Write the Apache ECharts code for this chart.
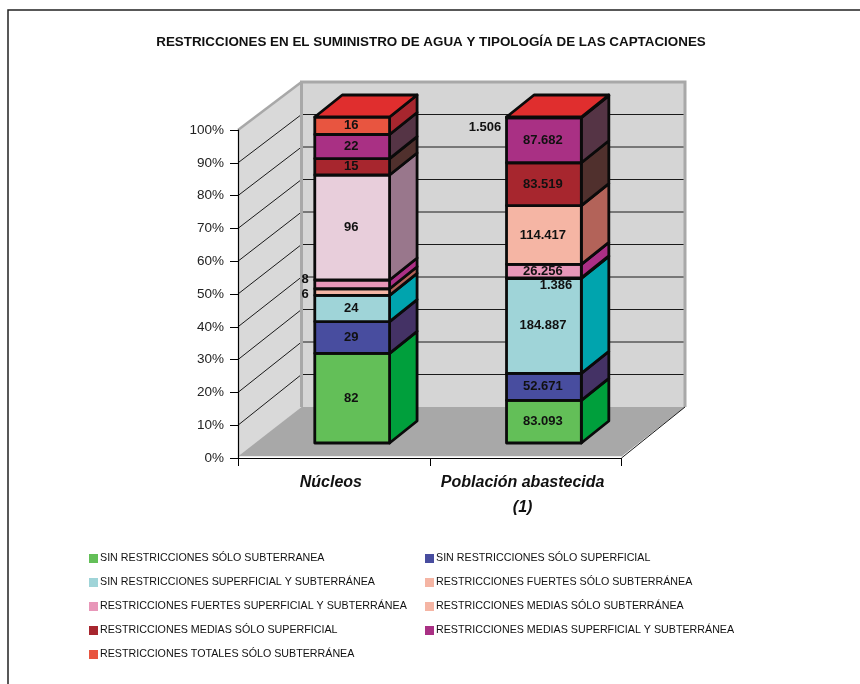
<!DOCTYPE html>
<html><head><meta charset="utf-8">
<style>html,body{margin:0;padding:0;background:#fff}#c{width:860px;height:684px}</style>
<script src="https://cdn.jsdelivr.net/npm/echarts@6/dist/echarts.min.js"></script>
</head><body><div id="c"></div>
<script>
// ---- data ----
var categories = ['Núcleos', 'Población abastecida\n(1)'];
var yTicks = [0, 10, 20, 30, 40, 50, 60, 70, 80, 90, 100];
var sinSoloSubterranea = [82, 83093];
var sinSoloSuperficial = [29, 52671];
var sinSuperficialSubterranea = [24, 184887];
var fuertesSoloSubterranea = [6, 1386];
var fuertesSuperficialSubterranea = [8, 26256];
var mediasSoloSubterranea = [96, 114417];
var mediasSoloSuperficial = [15, 83519];
var mediasSuperficialSubterranea = [22, 87682];
var totalesSoloSubterranea = [16, 1506];
var seriesNames = [
  'SIN RESTRICCIONES SÓLO SUBTERRANEA', 'SIN RESTRICCIONES SÓLO SUPERFICIAL',
  'SIN RESTRICCIONES SUPERFICIAL Y SUBTERRÁNEA', 'RESTRICCIONES FUERTES SÓLO SUBTERRÁNEA',
  'RESTRICCIONES FUERTES SUPERFICIAL Y SUBTERRÁNEA', 'RESTRICCIONES MEDIAS SÓLO SUBTERRÁNEA',
  'RESTRICCIONES MEDIAS SÓLO SUPERFICIAL', 'RESTRICCIONES MEDIAS SUPERFICIAL Y SUBTERRÁNEA',
  'RESTRICCIONES TOTALES SÓLO SUBTERRÁNEA'
];
var seriesValues = [sinSoloSubterranea, sinSoloSuperficial, sinSuperficialSubterranea,
  fuertesSoloSubterranea, fuertesSuperficialSubterranea, mediasSoloSubterranea,
  mediasSoloSuperficial, mediasSuperficialSubterranea, totalesSoloSubterranea];

// ---- styles ----
var frontColors = ['#63bf58', '#484d9f', '#9fd4d8', '#f5b5a4', '#e897b9', '#f5b5a4', '#a7262e', '#a93084', '#e85540'];
var sideColors  = ['#009f3c', '#443265', '#00a4ae', '#b36359', '#ab2f86', '#b36359', '#50302d', '#553445', '#a7262e'];
var overrides = { '5:0': { front: '#e8cedb', side: '#99778c' } };
var labelShift = { '3:0': [-46, 2], '4:0': [-46, -5], '3:1': [13, 7], '8:1': [-58, 10] };
var capColor = '#e02e2e';
var FONT = '"Liberation Sans", Arial, sans-serif';
var wall = { dx: 63.5, dyBottom: -51, dyTop: -48 };
var bar = { shift: 18.3, width: 74.8, sideDx: 27.5, sideDy: -22, rise: 15, scale: 326 / 328 };

var totals = categories.map(function (_, c) {
  return seriesValues.reduce(function (s, a) { return s + a[c]; }, 0);
});
function fmt(v) { return String(v).replace(/\B(?=(\d{3})+$)/g, '.'); }

function renderWall(params, api) {
  var v = api.value(0);
  var p = api.coord([0, v]);
  var p0 = api.coord([0, 0]);
  var p100 = api.coord([0, 100]);
  var xRight = api.coord([1, 0])[0] + api.size([1, 0])[0] / 2;
  var xLeft = api.coord([0, 0])[0] - api.size([1, 0])[0] / 2;
  function backY(val, y) { return y + wall.dyBottom + (wall.dyTop - wall.dyBottom) * val / 100; }
  var by0 = backY(0, p0[1]), by100 = backY(100, p100[1]);
  var bx = xLeft + wall.dx, brx = xRight + wall.dx;
  var by = backY(v, p[1]);
  var kids = [];
  if (params.dataIndex === 0) {
    kids.push({ type: 'polygon', shape: { points: [[xLeft, p0[1]], [xLeft, p100[1]], [bx, by100], [bx, by0]] }, style: { fill: '#d9d9d9', stroke: null } });
    kids.push({ type: 'rect', shape: { x: bx, y: by100, width: brx - bx, height: by0 - by100 }, style: { fill: '#d5d5d5', stroke: null } });
    kids.push({ type: 'polygon', shape: { points: [[xLeft, p0[1] - 1.5], [xRight, p0[1] - 1.5], [brx, by0], [bx, by0]] }, style: { fill: '#a8a8a8', stroke: null } });
    kids.push({ type: 'line', shape: { x1: xLeft, y1: p0[1] - 1, x2: xRight, y2: p0[1] - 1 }, style: { stroke: '#ffffff', lineWidth: 1 } });
  }
  if (v > 0 && v < 100) {
    kids.push({ type: 'polyline', shape: { points: [[xLeft, p[1]], [bx, by], [brx - 1, by]] }, style: { fill: null, stroke: '#1a1a1a', lineWidth: 1 } });
  }
  if (v === 100) {
    kids.push({ type: 'polyline', shape: { points: [[bx, by0], [bx, by100], [brx, by100], [brx, by0]] }, style: { fill: null, stroke: '#a8a8a8', lineWidth: 3 } });
    kids.push({ type: 'line', shape: { x1: xLeft, y1: p100[1], x2: bx, y2: by100 }, style: { stroke: '#a8a8a8', lineWidth: 2.5 } });
    kids.push({ type: 'line', shape: { x1: xRight, y1: p0[1], x2: brx, y2: by0 }, style: { stroke: '#1a1a1a', lineWidth: 1 } });
  }
  return { type: 'group', children: kids };
}

function renderLayer(params, api) {
  var s = params.seriesIndex - 1;
  var c = api.value(0);
  var y0Axis = api.coord([c, 0])[1];
  function by(v) { return y0Axis + (api.coord([c, v])[1] - y0Axis) * bar.scale - bar.rise; }
  var cx = api.coord([c, 0])[0] + bar.shift;
  var l = cx - bar.width / 2, r = cx + bar.width / 2;
  var yb = by(api.value(1)), yt = by(api.value(2));
  var o = overrides[s + ':' + c] || {};
  var sx = bar.sideDx, sy = bar.sideDy;
  var line = { stroke: '#0a0a0a', lineWidth: 2.8, lineJoin: 'round' };
  var kids = [
    { type: 'polygon', shape: { points: [[r, yb], [r + sx, yb + sy], [r + sx, yt + sy], [r, yt]] },
      style: Object.assign({ fill: o.side || sideColors[s] }, line) },
    { type: 'rect', shape: { x: l, y: yt, width: r - l, height: yb - yt },
      style: Object.assign({ fill: o.front || frontColors[s] }, line) }
  ];
  if (s === seriesValues.length - 1) {
    kids.push({ type: 'polygon', shape: { points: [[l, yt], [r, yt], [r + sx, yt + sy], [l + sx, yt + sy]] },
      style: Object.assign({ fill: capColor }, line) });
  }
  var sh = labelShift[s + ':' + c] || [0, 0];
  kids.push({ type: 'text', z2: 100, style: {
    x: cx - 1 + sh[0], y: (yb + yt) / 2 + sh[1], text: fmt(api.value(3)), align: 'center', verticalAlign: 'middle',
    font: 'bold 13px ' + FONT, fill: '#111'
  } });
  return { type: 'group', children: kids };
}

var layerSeries = seriesValues.map(function (vals, s) {
  return {
    name: seriesNames[s], type: 'custom', renderItem: renderLayer, z: 5 + s,
    coordinateSystem: 'cartesian2d', clip: false,
    itemStyle: { color: frontColors[s] },
    encode: { x: 0, y: 2 },
    data: vals.map(function (v, c) {
      var before = 0;
      for (var i = 0; i < s; i++) before += seriesValues[i][c];
      return [c, before / totals[c] * 100, (before + v) / totals[c] * 100, v];
    })
  };
});

function legendCol(left, items) {
  return {
    left: left, top: 552, orient: 'vertical', itemWidth: 9, itemHeight: 9, itemGap: 11, icon: 'rect',
    selectedMode: false, padding: 0, data: items,
    textStyle: { fontFamily: FONT, fontSize: 10.7, color: '#111', padding: [0, 0, 0, -3], lineHeight: 13 }
  };
}

var chart = echarts.init(document.getElementById('c'));
chart.setOption({
  animation: false,
  backgroundColor: '#fff',
  title: { text: 'RESTRICCIONES EN EL SUMINISTRO DE AGUA Y TIPOLOGÍA DE LAS CAPTACIONES',
    left: 431, textAlign: 'center', top: 36, padding: 0,
    textStyle: { fontFamily: FONT, fontWeight: 'bold', fontSize: 13.4, color: '#111' } },
  legend: [
    legendCol(89, [seriesNames[0], seriesNames[2], seriesNames[4], seriesNames[6], seriesNames[8]]),
    legendCol(425, [seriesNames[1], seriesNames[3], seriesNames[5], seriesNames[7]])
  ],
  graphic: [
    { type: 'polyline', silent: true, shape: { points: [[8, 684], [8, 10], [860, 10]] },
      style: { fill: null, stroke: '#222', lineWidth: 1.5 } }
  ],
  grid: { left: 238, right: 238.5, top: 130, bottom: 226 },
  xAxis: { type: 'category', data: categories, boundaryGap: true, z: 30,
    axisLine: { show: true, lineStyle: { color: '#000', width: 1.2 } },
    axisTick: { show: true, interval: 0, alignWithLabel: false, length: 8, lineStyle: { color: '#000' } },
    axisLabel: { interval: 0, hideOverlap: false, margin: 12, lineHeight: 25, padding: [0, 6, 0, 0], fontFamily: FONT, fontSize: 16, fontWeight: 'bold', fontStyle: 'italic', color: '#111', verticalAlign: 'top' },
    splitLine: { show: false } },
  yAxis: { type: 'value', min: 0, max: 100, interval: 10, z: 30,
    axisLine: { show: true, lineStyle: { color: '#000', width: 1.2 } },
    axisTick: { show: true, length: 8, lineStyle: { color: '#000' } },
    axisLabel: { margin: 14, formatter: '{value}%', fontFamily: FONT, fontSize: 13.5, color: '#222' },
    splitLine: { show: false } },
  series: [{ type: 'custom', name: 'walls', renderItem: renderWall, z: 1, clip: false,
    silent: true, encode: { y: 0 }, data: yTicks.map(function (v) { return [v]; }) }].concat(layerSeries)
});
</script></body></html>
